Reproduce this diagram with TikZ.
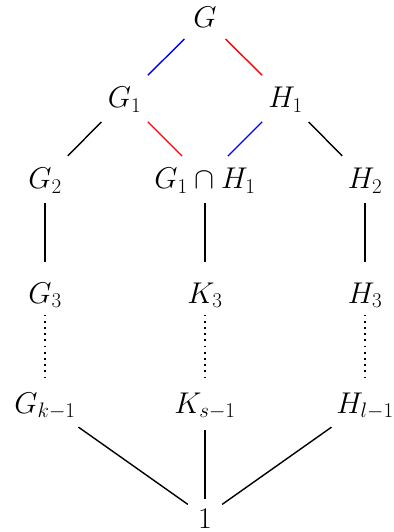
\RequirePackage{fix-cm}
\documentclass[tikz,border=0pt]{standalone}
\begin{document}
\begin{tikzpicture}[x=1pt,y=-1pt,
  every node/.style={font=\fontsize{30}{35}\selectfont, inner sep=0pt, outer sep=0pt,
     text height=24pt, text depth=5pt, anchor=base},
  edge/.style={line width=1.4pt},
  dots/.style={line width=1.8pt, dash pattern=on 1.8pt off 4.4pt}]
\useasboundingbox (0,0) rectangle (393,532);
\node (G) at (205,28) {$G$};
\node (G1) at (124.5,108) {$G_1$};
\node (H1) at (285.5,108) {$H_1$};
\node (G2) at (45,188.5) {$G_2$};
\node (GH) at (205,188.5) {$G_1\cap H_1$};
\node (H2) at (365,188.5) {$H_2$};
\node (G3) at (45,303) {$G_3$};
\node (K3) at (205,303) {$K_3$};
\node (H3) at (365,303) {$H_3$};
\node (Gk) at (45,413) {$G_{k-1}$};
\node (Ks) at (205,413) {$K_{s-1}$};
\node (Hl) at (365,413) {$H_{l-1}$};
\node[text height=24pt, text depth=1pt] (one) at (205,528) {$1$};
\begin{scope}[shorten <=29pt, shorten >=33pt]
\draw[edge,blue] (G.center) -- (G1.center);
\draw[edge,red] (G.center) -- (H1.center);
\end{scope}
\begin{scope}[shorten <=33pt, shorten >=32.5pt]
\draw[edge,red] (G1.center) -- (GH.center);
\draw[edge,blue] (H1.center) -- (GH.center);
\draw[edge] (G1.center) -- (G2.center);
\draw[edge] (H1.center) -- (H2.center);
\end{scope}
\begin{scope}[shorten <=24pt, shorten >=31.5pt]
\draw[edge] (G2.center) -- (G3.center);
\draw[edge] (GH.center) -- (K3.center);
\draw[edge] (H2.center) -- (H3.center);
\end{scope}
\begin{scope}[shorten <=21pt, shorten >=26pt]
\draw[dots] (G3.center) -- (Gk.center);
\draw[dots] (K3.center) -- (Ks.center);
\draw[dots] (H3.center) -- (Hl.center);
\end{scope}
\begin{scope}[shorten <=41pt, shorten >=21pt]
\draw[edge] (Gk.center) -- (one.center);
\draw[edge] (Hl.center) -- (one.center);
\end{scope}
\draw[edge, shorten <=26.5pt, shorten >=17.5pt] (Ks.center) -- (one.center);
\end{tikzpicture}
\end{document}
